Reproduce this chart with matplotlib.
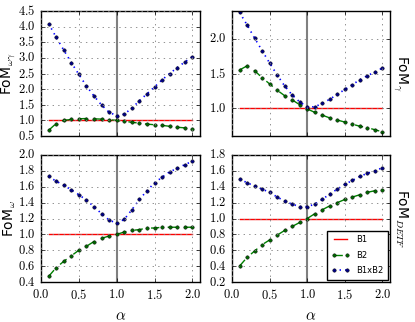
import numpy as np
import matplotlib
matplotlib.use('Agg')
import matplotlib.pyplot as plt
from matplotlib.ticker import FuncFormatter, MultipleLocator

plt.style.use('classic')
plt.rcParams['mathtext.fontset'] = 'cm'
plt.rcParams['font.family'] = 'DejaVu Sans'

# alpha values
alpha = [0.1, 0.2, 0.3, 0.4, 0.5, 0.6, 0.7, 0.8, 0.9, 1.0,
         1.1, 1.2, 1.3, 1.4, 1.5, 1.6, 1.7, 1.8, 1.9, 2.0]

# FoM_omega_gamma
wg_b2 = [0.68, 0.90, 1.00, 1.03, 1.05, 1.06, 1.05, 1.04, 1.02, 1.00,
         0.97, 0.94, 0.91, 0.88, 0.86, 0.84, 0.81, 0.78, 0.76, 0.73]
wg_b12 = [4.10, 3.66, 3.25, 2.85, 2.47, 2.10, 1.78, 1.49, 1.26, 1.15,
          1.20, 1.39, 1.63, 1.85, 2.07, 2.30, 2.50, 2.69, 2.87, 3.04]

# FoM_gamma
g_b2 = [1.55, 1.61, 1.54, 1.44, 1.35, 1.26, 1.18, 1.12, 1.05, 0.99,
        0.94, 0.90, 0.86, 0.83, 0.80, 0.77, 0.74, 0.72, 0.69, 0.66]
g_b12 = [2.38, 2.20, 2.01, 1.83, 1.65, 1.48, 1.32, 1.19, 1.09, 1.02,
         1.02, 1.07, 1.13, 1.20, 1.27, 1.34, 1.41, 1.47, 1.52, 1.58]

# FoM_omega
w_b2 = [0.47, 0.58, 0.66, 0.73, 0.80, 0.85, 0.91, 0.95, 0.98, 1.00,
        1.03, 1.05, 1.06, 1.08, 1.08, 1.09, 1.09, 1.09, 1.09, 1.09]
w_b12 = [1.73, 1.67, 1.62, 1.56, 1.50, 1.43, 1.35, 1.26, 1.18, 1.14,
         1.19, 1.31, 1.44, 1.55, 1.65, 1.72, 1.79, 1.83, 1.88, 1.92]

# FoM_DETF
d_b2 = [0.40, 0.51, 0.59, 0.67, 0.73, 0.79, 0.85, 0.90, 0.95, 1.00,
        1.06, 1.11, 1.16, 1.20, 1.24, 1.27, 1.30, 1.33, 1.35, 1.36]
d_b12 = [1.50, 1.45, 1.41, 1.37, 1.33, 1.27, 1.22, 1.18, 1.15, 1.15,
         1.18, 1.24, 1.31, 1.37, 1.43, 1.48, 1.53, 1.57, 1.60, 1.64]

panels = [
    (wg_b2, wg_b12, r'FoM$_{\omega\gamma}$', (0.5, 4.5), 0.5, 'left'),
    (g_b2, g_b12, r'FoM$_{\gamma}$', (0.6, 2.4), 0.5, 'right'),
    (w_b2, w_b12, r'FoM$_{\omega}$', (0.4, 2.0), 0.2, 'left'),
    (d_b2, d_b12, r'FoM$_{DETF}$', (0.2, 1.8), 0.2, 'right'),
]

W, H = 415, 322
rects = [(41, 11, 159, 125), (232, 11, 158, 125),
         (41, 155, 159, 127), (232, 155, 158, 127)]

fig = plt.figure(figsize=(4.15, 3.22), dpi=100, facecolor='white')
fmt = FuncFormatter(lambda v, p: r'$%.1f$' % v)

for i, (b2, b12, lab, ylim, step, side) in enumerate(panels):
    x0, y0, w, h = rects[i]
    ax = fig.add_axes([x0 / W, 1 - (y0 + h) / H, w / W, h / H])
    ax.axvline(1.0, color='gray', lw=1.5, zorder=1)
    ax.plot(alpha, [1.0] * len(alpha), color='red', lw=1, label='B1')
    ax.plot(alpha, b2, color='green', ls='--', marker='o', ms=2.5,
            mfc='darkgreen', mec='k', mew=0.3, lw=1, label='B2')
    ax.plot(alpha, b12, color='blue', ls=':', marker='o', ms=2.5,
            mfc='navy', mec='k', mew=0.3, lw=1.2, label='B1xB2')
    ax.set_xlim(0.0, 2.1)
    ax.set_ylim(*ylim)
    ax.xaxis.set_major_locator(MultipleLocator(0.5))
    ax.yaxis.set_major_locator(MultipleLocator(step))
    ax.xaxis.set_major_formatter(fmt)
    ax.yaxis.set_major_formatter(fmt)
    ax.tick_params(labelsize=9, length=3)
    ax.grid(True, color='gray', ls=':', lw=0.6)
    if i < 2:
        ax.set_xticklabels([])
    else:
        ax.set_xlabel(r'$\alpha$', fontsize=11)
    if side == 'left':
        ax.set_ylabel(lab, fontsize=10, labelpad=0)
    else:
        ax.yaxis.set_label_position('right')
        ax.set_ylabel(lab, fontsize=10, rotation=-90, labelpad=14)
    if i == 3:
        ax.legend(loc='lower right', fontsize=6, numpoints=2,
                  handlelength=2.2, borderpad=0.5, labelspacing=0.8,
                  borderaxespad=0.3, fancybox=False)

fig.savefig('out.png', dpi=100, facecolor='white')
